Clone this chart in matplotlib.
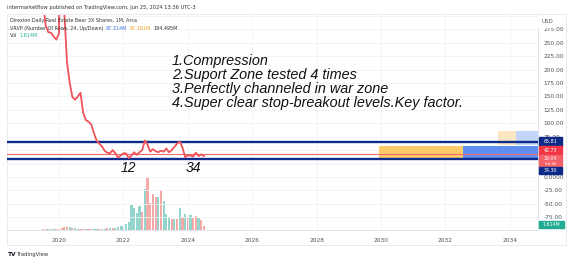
import numpy as np
import pandas as pd
import matplotlib
matplotlib.use("Agg")
import matplotlib.pyplot as plt
from matplotlib.patches import Rectangle

# monthly closes, Jul 2019 .. Jul 2024
months = pd.date_range("2019-07-01", "2024-07-01", freq="MS")
close = [330, 283, 270, 269, 262, 256, 268, 720, 305, 213,
         175, 149, 144, 150, 157, 120, 106, 103, 98, 82,
         68, 62, 57, 49, 45, 44, 50, 44, 36, 40,
         44, 44, 35, 40, 46, 41, 46, 50, 68, 60,
         47, 52, 48, 46, 49, 47, 53, 46, 50, 56,
         62, 66, 55, 37, 40, 40, 38, 45, 39, 42, 39]
volume = [0.6, 0.6, 0.6, 0.7, 0.8, 1.0, 1.2, 1.8, 3.0, 3.5,
          3.0, 2.5, 2.0, 1.5, 1.2, 1.0, 0.9, 0.8, 0.8, 0.9,
          1.0, 1.2, 1.3, 1.5, 1.8, 2.0, 2.3, 2.5, 3.0, 3.8,
          4.5, 6.0, 8.0, 25, 22, 17, 24, 18, 41, 53,
          27, 36, 33, 33, 40, 29, 16, 13, 11, 11,
          11, 22, 13, 16, 13, 15, 12, 14, 12, 10, 4]
vol_up = "ddutuddddduduuddudduuduududuuu" + "utututtdtddddtdtttdtdtdtdtddt"
vol_up = [c in "ut" for c in vol_up]

# levels drawn on the chart
top_line = 65.81
mid_line = 42.73
bottom_line = 34.30
last_price = 39.04

# visible-range volume profile rows
vp_bottom = [31.7, 59.7]
vp_height = 26.0
vp_up = [66.0, 19.5]
vp_down = [74.0, 16.0]

price_ticks = list(range(-75, 276, 25))
hidden_ticks = [25, 50]  # covered by the price tags

notes = ["1.Compression",
         "2.Suport Zone tested 4 times",
         "3.Perfectly channeled in war zone",
         "4.Super clear stop-breakout levels.Key factor."]

t = months.year + (months.month - 1) / 12.0

W, H = 571, 260
fig = plt.figure(figsize=(W / 100, H / 100), dpi=100)
fig.patch.set_facecolor("white")

L, R, T, B = 7, 538, 15, 230
ax = fig.add_axes([L / W, 1 - B / H, (R - L) / W, (B - T) / H])
axv = ax.twinx()
ax.set_zorder(axv.get_zorder() + 1)
ax.patch.set_visible(False)

x0, x1 = 2018.385, 2034.876
ax.set_xlim(x0, x1)
ax.set_ylim(-99, 302)

# volume bars
vcol = ["#93d4cc" if u else "#f6aaa8" for u in vol_up]
axv.bar(t, volume, width=0.8 / 12, color=vcol, linewidth=0)
axv.set_ylim(0, 215)
axv.set_yticks([])
axv.set_xlim(x0, x1)

# grid
for yv in range(-75, 301, 25):
    ax.axhline(yv, color="#f0f2f5", lw=0.6, zorder=0)
for xv in range(2020, 2035, 2):
    ax.axvline(xv, color="#f0f2f5", lw=0.6, zorder=0)

# volume profile
span = 0.30 * (x1 - x0) / max(u + d for u, d in zip(vp_up, vp_down))
up_cols = ["#5d8ef0", "#c4d6f8"]
dn_cols = ["#fbca69", "#fbe7c2"]
for k in range(len(vp_bottom)):
    wu = vp_up[k] * span
    wd = vp_down[k] * span
    ax.barh(vp_bottom[k], wu, left=x1 - wu, height=vp_height, align="edge",
            color=up_cols[k], lw=0, zorder=1)
    ax.barh(vp_bottom[k], wd, left=x1 - wu - wd, height=vp_height, align="edge",
            color=dn_cols[k], lw=0, zorder=1)

# horizontal levels and price
ax.axhline(mid_line, color="#f26a6a", lw=0.8, zorder=2)
ax.axhline(top_line, color="#0c2c8c", lw=1.7, zorder=3)
ax.axhline(bottom_line, color="#0c2c8c", lw=1.7, zorder=3)
ax.plot(t, close, color="#f0525a", lw=1.3, zorder=4)

# annotations
for i, s in enumerate(notes):
    ax.text(2023.5, 217 - i * 26.5, s, fontsize=10.4, style="italic",
            family="Liberation Sans", color="#111111", va="center", zorder=6)
ax.text(2022.17, 16.8, "12", fontsize=10, style="italic", family="Liberation Sans",
        ha="center", va="center", color="#111111")
ax.text(2024.18, 16.8, "34", fontsize=10, style="italic", family="Liberation Sans",
        ha="center", va="center", color="#111111")

# axes styling
for sp in ["top", "left"]:
    ax.spines[sp].set_visible(False)
    axv.spines[sp].set_visible(False)
for a in (ax, axv):
    a.spines["right"].set_color("#e0e3eb")
    a.spines["bottom"].set_color("#e0e3eb")
    a.spines["right"].set_linewidth(0.6)
    a.spines["bottom"].set_linewidth(0.6)
ax.yaxis.tick_right()
ax.set_yticks(price_ticks)
ax.set_yticklabels(["" if v in hidden_ticks else ("0.0000" if v == 0 else f"{v:.2f}")
                    for v in price_ticks])
ax.set_xticks(range(2020, 2035, 2))
ax.tick_params(axis="both", length=0, labelsize=4.2, labelcolor="#50535e")
ax.tick_params(axis="y", pad=4)
ax.tick_params(axis="x", pad=6)
axv.tick_params(axis="both", length=0, labelbottom=False)


# price scale tags, laid out in figure pixels (top, bottom, colour, text lines)
def tag(y_top, y_bot, col, lines, sizes, x_l=539, x_r=562):
    fig.add_artist(Rectangle((x_l / W, 1 - y_bot / H), (x_r - x_l) / W, (y_bot - y_top) / H,
                             transform=fig.transFigure, color=col, zorder=10))
    step = (y_bot - y_top) / len(lines)
    for j, s in enumerate(lines):
        yc = y_top + step * (j + 0.5)
        fig.text((x_l + x_r) / 2 / W, 1 - yc / H, s, ha="center", va="center",
                 fontsize=sizes[j], color="white", zorder=11)


tag(137, 146, "#0d2a88", [f"{top_line:.2f}"], [3.4])
tag(146, 155, "#f23645", [f"{mid_line:.2f}"], [3.4])
tag(155, 167, "#f5616a", [f"{last_price:.2f}", "5d 4h"], [3.4, 3.0])
tag(167, 174, "#0d2a88", [f"{bottom_line:.2f}"], [3.4])
tag(221, 228, "#22ab94", ["1.614M"], [3.4], x_r=564)

fig.text(541 / W, 1 - 21.7 / H, "USD", ha="left", va="center", fontsize=4.0,
         color="#50535e", zorder=11,
         bbox=dict(boxstyle="square,pad=0.6", fc="white", ec="none"))

# header and legend
fig.text(7 / W, 1 - 8 / H, "intermarketflow published on TradingView.com, Jun 25, 2024 13:36 UTC-3",
         fontsize=3.7, color="#333333", va="center")
fig.text(10 / W, 1 - 20.5 / H, "Direxion Daily Real Estate Bear 3X Shares, 1M, Arca",
         fontsize=3.5, color="#333333", va="center")

renderer = fig.canvas.get_renderer()


def text_run(x_px, y_px, parts):
    # consecutive pieces of text, each in its own colour
    for s, c in parts:
        tx = fig.text(x_px / W, 1 - y_px / H, s, fontsize=3.5, color=c, va="center")
        x_px += tx.get_window_extent(renderer).width + 2.5


text_run(10, 28, [("VRVP (Number Of Rows, 24, Up/Down)", "#333333"),
                  ("87.314M", "#3c6fe0"), ("97.181M", "#f0a020"),
                  ("184.495M", "#333333")])
text_run(10, 35.5, [("Vol", "#333333"), ("1.614M", "#22ab94")])

fig.text(8 / W, 1 - 254.5 / H, "TV", fontsize=4.2, weight="bold", color="#131722", va="center")
fig.text(17 / W, 1 - 254.5 / H, "TradingView", fontsize=3.8, color="#333333", va="center")

# outer frame
fig.add_artist(Rectangle((7 / W, 1 - 245 / H), 559 / W, 231 / H, transform=fig.transFigure,
                         fill=False, ec="#e6e8ee", lw=0.6))

fig.savefig("out.png", dpi=100)
